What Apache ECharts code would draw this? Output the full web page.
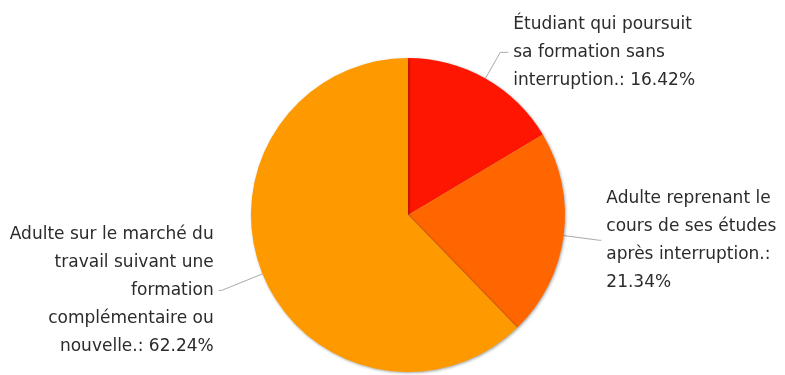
<!DOCTYPE html>
<html>
<head>
<meta charset="utf-8">
<script src="https://cdn.jsdelivr.net/npm/echarts@6/dist/echarts.min.js"></script>
<style>
  html, body { margin: 0; padding: 0; background: #fff; }
  #chart { width: 785px; height: 375px; }
</style>
</head>
<body>
<div id="chart"></div>
<script>
// Profil des apprenants (part en %)
const categories = [
  'Étudiant qui poursuit\nsa formation sans\ninterruption.',
  'Adulte reprenant le\ncours de ses études\naprès interruption.',
  'Adulte sur le marché du\ntravail suivant une\nformation\ncomplémentaire ou\nnouvelle.'
];
const values = [16.42, 21.34, 62.24];
const colors = ['#ff1600', '#ff6600', '#ff9900'];

// The middle slice puts its percentage on a line of its own.
const valueOnNewLine = [false, true, false];
// Connector lengths per slice: radial part, then horizontal part.
const lineLen = [30, 36, 44];
const lineLen2 = [8, 2, 3];

const chart = echarts.init(document.getElementById('chart'), null, { renderer: 'canvas' });

chart.setOption({
  animation: false,
  backgroundColor: '#ffffff',
  series: [{
    type: 'pie',
    center: [408, 215],
    radius: [0, 157],
    startAngle: 90,
    clockwise: true,
    avoidLabelOverlap: false,
    itemStyle: {
      borderWidth: 0,
      shadowColor: 'rgba(0,0,0,0.35)',
      shadowBlur: 3,
      shadowOffsetX: 1,
      shadowOffsetY: 1
    },
    label: {
      show: true,
      position: 'outside',
      fontFamily: 'DejaVu Sans',
      fontSize: 17,
      lineHeight: 28,
      color: '#2b2b2b',
      formatter: function (p) {
        const sep = valueOnNewLine[p.dataIndex] ? ':\n' : ': ';
        return p.name + sep + p.value.toFixed(2) + '%';
      }
    },
    labelLine: {
      show: true,
      smooth: false,
      lineStyle: { color: '#aaaaaa', width: 1 }
    },
    data: categories.map((c, i) => ({
      name: c,
      value: values[i],
      itemStyle: { color: colors[i] },
      labelLine: { length: lineLen[i], length2: lineLen2[i] }
    }))
  }]
});
</script>
</body>
</html>
